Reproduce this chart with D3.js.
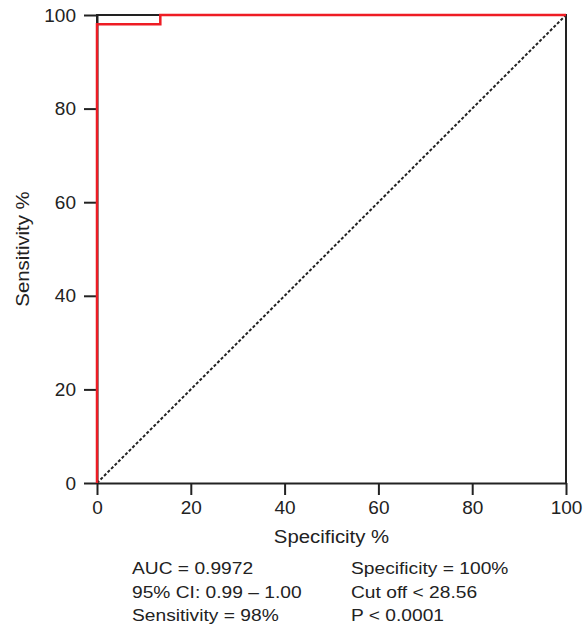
<!DOCTYPE html>
<html>
<head>
<meta charset="utf-8">
<script src="https://cdn.jsdelivr.net/npm/d3@7"></script>
<style>
body { margin: 0; background: #fff; }
text { font-family: "Liberation Sans", Arial, sans-serif; fill: #222; }
</style>
</head>
<body>
<script>
// ROC curve: x = 100 - specificity, y = sensitivity
var rocX = [0, 0, 13.5, 13.5, 100];
var rocY = [0, 98, 98, 100, 100];
// black reference line drawn under the red curve
var refX = [0, 0, 100, 100];
var refY = [0, 100, 100, 0];
var diagX = [0, 100];
var diagY = [0, 100];
var tickValues = [0, 20, 40, 60, 80, 100];
var statsLeft = ["AUC = 0.9972", "95% CI: 0.99 \u2013 1.00", "Sensitivity = 98%"];
var statsRight = ["Specificity = 100%", "Cut off < 28.56", "P < 0.0001"];

var W = 588, H = 628;
var margin = {left: 97, right: 22, top: 15, bottom: 145};
var width = W - margin.left - margin.right,
    height = H - margin.top - margin.bottom;

var svg = d3.select("body").append("svg")
    .attr("width", W).attr("height", H);
var g = svg.append("g")
    .attr("transform", "translate(" + margin.left + "," + margin.top + ")");

var x = d3.scaleLinear().domain([0, 100]).range([0, width]);
var y = d3.scaleLinear().domain([0, 100]).range([height, 0]);

function pts(xs, ys) {
    return xs.map(function(v, i) { return [x(v), y(ys[i])]; });
}
var line = d3.line();

// axes
var xAxis = g.append("g")
    .attr("transform", "translate(0," + height + ")")
    .call(d3.axisBottom(x).tickValues(tickValues).tickSize(12)
        .tickPadding(6).tickSizeOuter(0));
var yAxis = g.append("g")
    .call(d3.axisLeft(y).tickValues(tickValues).tickSize(13)
        .tickPadding(8).tickSizeOuter(0));
[xAxis, yAxis].forEach(function(a) {
    a.select(".domain").attr("stroke", "#222").attr("stroke-width", 2);
    a.selectAll(".tick line").attr("stroke", "#222").attr("stroke-width", 2);
    a.selectAll(".tick text").style("font-size", "19px")
        .attr("fill", "#222");
});

// diagonal
g.append("path")
    .attr("d", line(pts(diagX, diagY)))
    .attr("fill", "none").attr("stroke", "#222")
    .attr("stroke-width", 2).attr("stroke-dasharray", "3,2");

// reference frame line
g.append("path")
    .attr("d", line(pts(refX, refY)))
    .attr("fill", "none").attr("stroke", "#222").attr("stroke-width", 2);

// ROC curve
g.append("path")
    .attr("d", line(pts(rocX, rocY)))
    .attr("fill", "none").attr("stroke", "#ee1c24").attr("stroke-width", 2.5);

// axis titles (the source font is a bit wider, so stretch horizontally)
svg.append("text")
    .attr("transform", "translate(" + (margin.left + width / 2) + ",543) scale(1.1,1)")
    .attr("text-anchor", "middle").style("font-size", "18.5px")
    .text("Specificity %");
svg.append("text")
    .attr("transform", "translate(29," + (margin.top + height / 2) + ") rotate(-90) scale(1.1,1)")
    .attr("text-anchor", "middle").style("font-size", "18.5px")
    .text("Sensitivity %");

// stats
function stat(s, xPos, i) {
    svg.append("text")
        .attr("transform", "translate(" + xPos + "," + (574 + i * 23.5) + ") scale(1.13,1)")
        .style("font-size", "17px").text(s);
}
statsLeft.forEach(function(s, i) { stat(s, 132, i); });
statsRight.forEach(function(s, i) { stat(s, 351, i); });
</script>
</body>
</html>
